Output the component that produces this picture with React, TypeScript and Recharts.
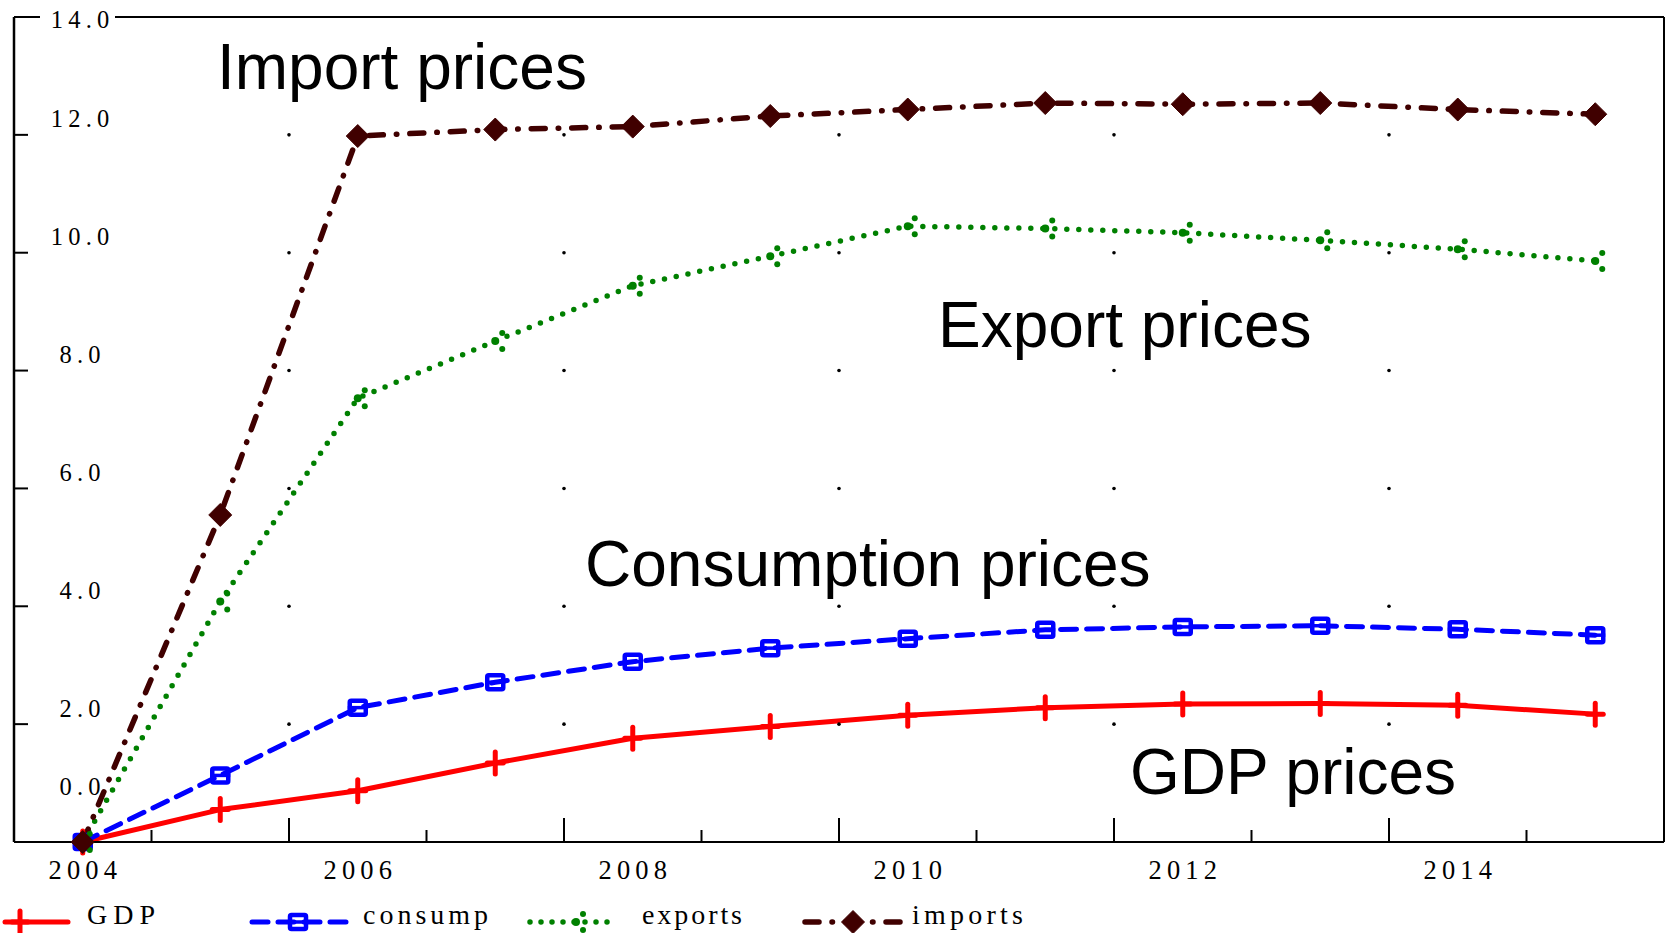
import React from 'react';
import { LineChart, Line, XAxis, YAxis, ReferenceDot, Legend, Customized } from 'recharts';

// ---- data ----
const YEARS = [2004, 2005, 2006, 2007, 2008, 2009, 2010, 2011, 2012, 2013, 2014, 2015];
const GDP = [0, 0.55, 0.87, 1.34, 1.76, 1.96, 2.15, 2.28, 2.34, 2.35, 2.32, 2.17];
const CONSUMP = [0, 1.13, 2.28, 2.71, 3.06, 3.29, 3.45, 3.6, 3.65, 3.67, 3.61, 3.51];
const EXPORTS = [0, 4.08, 7.53, 8.5, 9.44, 9.94, 10.45, 10.41, 10.34, 10.21, 10.06, 9.86];
const IMPORTS = [0, 5.55, 11.98, 12.09, 12.14, 12.32, 12.43, 12.54, 12.52, 12.54, 12.43, 12.35];

const X_DOMAIN = [2003.5, 2015.5];
const Y_DOMAIN = [0, 14];
const X_LABEL_TICKS = [2004, 2006, 2008, 2010, 2012, 2014];
const X_MAJOR_TICKS = [2005.5, 2007.5, 2009.5, 2011.5, 2013.5];
const X_MINOR_TICKS = [2004.5, 2006.5, 2008.5, 2010.5, 2012.5, 2014.5];
const Y_TICKS = [0, 2, 4, 6, 8, 10, 12, 14];
const GRID_Y = [2, 4, 6, 8, 10, 12];

const SERIES_NAMES = ['GDP', 'consump', 'exports', 'imports'];
const ANNOTATION_TEXTS = ['Import prices', 'Export prices', 'Consumption prices', 'GDP prices'];

const data = YEARS.map((year, i) => ({
  year,
  GDP: GDP[i],
  consump: CONSUMP[i],
  exports: EXPORTS[i],
  imports: IMPORTS[i],
}));

const X_ALL_TICKS = [...X_LABEL_TICKS, ...X_MAJOR_TICKS, ...X_MINOR_TICKS].sort((a, b) => a - b);

// ---- styles ----
const RED = '#FF0000';
const BLUE = '#0000FF';
const GREEN = '#008000';
const MAROON = '#400000';
const SERIF = '"Liberation Serif", "Times New Roman", serif';
const SANS = '"Liberation Sans", Arial, sans-serif';

const ANNOTATION_POS = [
  { x: 217, y: 89 },
  { x: 938, y: 347 },
  { x: 585, y: 586 },
  { x: 1130, y: 794 },
];

// ---- markers ----
const PlusMark = ({ cx, cy }: any) => (
  <g>
    <line x1={cx} x2={cx} y1={cy - 11} y2={cy + 11} stroke={RED} strokeWidth={5} strokeLinecap="round" />
    <line x1={cx - 8} x2={cx + 8} y1={cy} y2={cy} stroke={RED} strokeWidth={5} strokeLinecap="round" />
  </g>
);

const BoxMark = ({ cx, cy }: any) => (
  <g>
    <rect x={cx - 8} y={cy - 7} width={16} height={14} rx={1.5} fill="none" stroke={BLUE} strokeWidth={4.5} />
    <line x1={cx - 10} x2={cx + 10} y1={cy} y2={cy} stroke={BLUE} strokeWidth={3.5} />
  </g>
);

const DotsMark = ({ cx, cy }: any) => (
  <g fill={GREEN}>
    <circle cx={cx} cy={cy} r={4} />
    <circle cx={cx + 7} cy={cy - 8} r={3} />
    <circle cx={cx + 7} cy={cy + 8} r={3} />
  </g>
);

const DiamondMark = ({ cx, cy }: any) => (
  <path d={`M${cx},${cy - 11.5} L${cx + 11.5},${cy} L${cx},${cy + 11.5} L${cx - 11.5},${cy} Z`} fill={MAROON}
    stroke={MAROON} strokeWidth={1} strokeLinejoin="round" />
);

const dotFn = (Comp: any) => (p: any) => <Comp key={`d-${p.index}`} cx={p.cx} cy={p.cy} />;

// ---- axis ticks ----
const XTick = ({ x, y, payload }: any) => {
  const v = payload.value;
  if (X_LABEL_TICKS.includes(v)) {
    return (
      <text x={x + 2.6} y={y + 37} textAnchor="middle" fontFamily={SERIF} fontSize={26.5} letterSpacing={5.2} fill="#000">
        {v}
      </text>
    );
  }
  const len = X_MAJOR_TICKS.includes(v) ? 24 : 12;
  return <line x1={x} x2={x} y1={y} y2={y - len} stroke="#000" strokeWidth={2} />;
};

const YTickLeft = ({ x, y, payload }: any) => {
  const v = payload.value;
  let dy = -7.5;
  if (v === 14) dy = 11;
  if (v === 0) dy = -47;
  return (
    <g>
      {v > 0 && v < 14 && <line x1={x} x2={x + 14} y1={y} y2={y} stroke="#000" strokeWidth={2} />}
      {v === 14 && <rect x={x + 26} y={y - 5} width={75} height={10} fill="#fff" />}
      <text x={x + 66 + 2.6} y={y + dy} textAnchor="middle" fontFamily={SERIF} fontSize={24.5} letterSpacing={5.2} fill="#000">
        {v.toFixed(1)}
      </text>
    </g>
  );
};

const YTickRight = ({ x, y, payload }: any) => {
  const v = payload.value;
  if (v <= 0 || v >= 14) return <g />;
  return <line x1={x - 12} x2={x} y1={y} y2={y} stroke="#000" strokeWidth={2} />;
};

// ---- legend ----
const LEGEND_ITEMS = [
  { line: [5, 68], mark: 20, text: 87, len: 68 },
  { line: [252, 346], mark: 298, text: 363, len: 125 },
  { line: [530, 612], mark: 576, text: 642, len: 100 },
  { line: [805, 902], mark: 853, text: 912, len: 111 },
];
const LEGEND_STYLE = [
  { stroke: RED, width: 5, dash: undefined, Mark: PlusMark },
  { stroke: BLUE, width: 5, dash: '16 10', Mark: BoxMark },
  { stroke: GREEN, width: 5.5, dash: '0 11', Mark: DotsMark },
  { stroke: MAROON, width: 5.5, dash: '14 13 0.5 13', Mark: DiamondMark },
];

const LegendContent = () => (
  <svg width={1100} height={33} style={{ display: 'block' }}>
    {SERIES_NAMES.map((name, i) => {
      const it = LEGEND_ITEMS[i];
      const st = LEGEND_STYLE[i];
      const M = st.Mark;
      return (
        <g key={name}>
          <line x1={it.line[0]} x2={it.line[1]} y1={22} y2={22} stroke={st.stroke} strokeWidth={st.width}
            strokeDasharray={st.dash} strokeLinecap="round" />
          <M cx={it.mark} cy={22} />
          <text x={it.text} y={24} fontFamily={SERIF} fontSize={28} textLength={it.len} lengthAdjust="spacing" fill="#000">
            {name}
          </text>
        </g>
      );
    })}
  </svg>
);

const Annotations = () => (
  <g>
    {ANNOTATION_TEXTS.map((t, i) => (
      <text key={t} x={ANNOTATION_POS[i].x} y={ANNOTATION_POS[i].y} fontFamily={SANS} fontSize={64} fill="#000">
        {t}
      </text>
    ))}
  </g>
);

export default function App() {
  return (
    <div style={{ position: 'absolute', left: 0, top: 0, width: 1668, height: 933, background: '#fff' }}>
      <LineChart width={1668} height={933} data={data} margin={{ top: 0, right: 0, bottom: 0, left: 0 }}>
        <XAxis xAxisId="top" orientation="top" type="number" domain={X_DOMAIN} ticks={[]} tick={false}
          tickLine={false} height={17} axisLine={{ stroke: '#000', strokeWidth: 2 }} />
        <XAxis dataKey="year" type="number" domain={X_DOMAIN} ticks={X_ALL_TICKS} interval={0} tick={<XTick />}
          tickLine={false} tickSize={0} tickMargin={0} height={91} axisLine={{ stroke: '#000', strokeWidth: 2 }} />
        <YAxis yAxisId="right" orientation="right" type="number" domain={Y_DOMAIN} ticks={Y_TICKS} interval={0}
          tick={<YTickRight />} tickLine={false} tickSize={0} tickMargin={0} width={4}
          axisLine={{ stroke: '#000', strokeWidth: 2 }} />
        <YAxis type="number" domain={Y_DOMAIN} ticks={Y_TICKS} interval={0} tick={<YTickLeft />} tickLine={false}
          tickSize={0} tickMargin={0} width={14} axisLine={{ stroke: '#000', strokeWidth: 2.5 }} />
        {X_MAJOR_TICKS.flatMap((gx) =>
          GRID_Y.map((gy) => (
            <ReferenceDot key={`g-${gx}-${gy}`} x={gx} y={gy} r={1.8} fill="#000" stroke="none" />
          ))
        )}
        <Customized component={<Annotations />} />
        <Line dataKey="GDP" name="GDP" stroke={RED} strokeWidth={5} strokeLinecap="round" strokeLinejoin="round"
          dot={dotFn(PlusMark)} activeDot={false} isAnimationActive={false} />
        <Line dataKey="consump" name="consump" stroke={BLUE} strokeWidth={5} strokeDasharray="16 10"
          strokeLinecap="round" dot={dotFn(BoxMark)} activeDot={false} isAnimationActive={false} />
        <Line dataKey="exports" name="exports" stroke={GREEN} strokeWidth={5.5} strokeDasharray="0 12"
          strokeLinecap="round" dot={dotFn(DotsMark)} activeDot={false} isAnimationActive={false} />
        <Line dataKey="imports" name="imports" stroke={MAROON} strokeWidth={5.5} strokeDasharray="14 13 0.5 13"
          strokeLinecap="round" dot={dotFn(DiamondMark)} activeDot={false} isAnimationActive={false} />
        <Legend layout="horizontal" verticalAlign="middle" align="center" content={<LegendContent />}
          wrapperStyle={{ left: 0, top: 900, width: 1100, height: 33 }} />
      </LineChart>
    </div>
  );
}
